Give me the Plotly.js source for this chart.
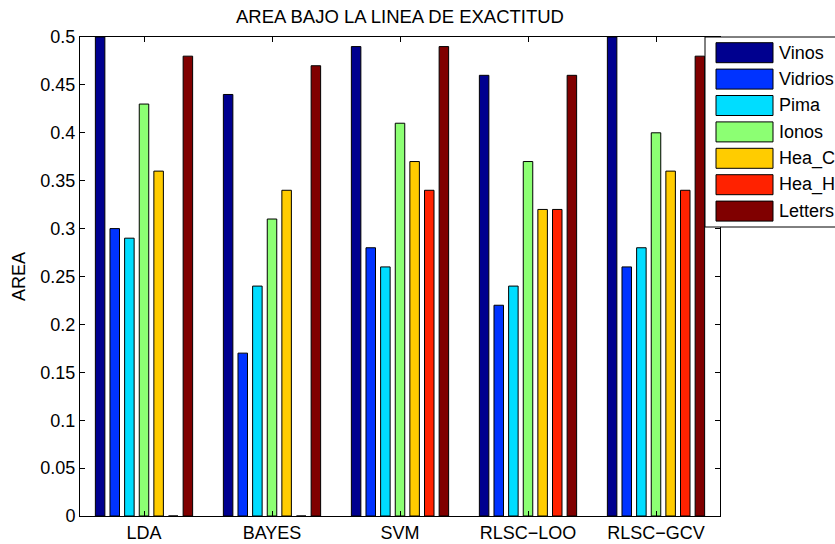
<!DOCTYPE html>
<html>
<head>
<meta charset="utf-8">
<script src="https://cdn.plot.ly/plotly-3.0.1.min.js"></script>
<style>html,body{margin:0;padding:0;background:#fff;}#chart{width:835px;height:544px;}</style>
</head>
<body>
<div id="chart"></div>
<script>
const categories = ["LDA", "BAYES", "SVM", "RLSC\u2212LOO", "RLSC\u2212GCV"];
const seriesNames = ["Vinos", "Vidrios", "Pima", "Ionos", "Hea_C", "Hea_H", "Letters"];
const seriesColors = ["#00008F", "#0033FF", "#00DDFF", "#8CFF73", "#FFCC00", "#FF2200", "#800000"];
const vinos   = [0.50, 0.44, 0.49, 0.46, 0.50];
const vidrios = [0.30, 0.17, 0.28, 0.22, 0.26];
const pima    = [0.29, 0.24, 0.26, 0.24, 0.28];
const ionos   = [0.43, 0.31, 0.41, 0.37, 0.40];
const heaC    = [0.36, 0.34, 0.37, 0.32, 0.36];
const heaH    = [0.00, 0.00, 0.34, 0.32, 0.34];
const letters = [0.48, 0.47, 0.49, 0.46, 0.48];
const yTicks = [0, 0.05, 0.1, 0.15, 0.2, 0.25, 0.3, 0.35, 0.4, 0.45, 0.5];
const yTickLabels = ["0", "0.05", "0.1", "0.15", "0.2", "0.25", "0.3", "0.35", "0.4", "0.45", "0.5"];

const seriesValues = [vinos, vidrios, pima, ionos, heaC, heaH, letters];
const FONT = "Liberation Sans, Arial, Helvetica, sans-serif";
const FS = 18;

const traces = seriesValues.map((vals, i) => ({
  type: "bar",
  name: seriesNames[i],
  x: categories,
  y: vals,
  marker: {color: seriesColors[i], line: {color: "#000", width: 1}},
  hoverinfo: "name+y"
}));

// custom MATLAB-style legend (box, swatches, labels) in paper coords
const plotL = 80, plotR = 720, plotT = 37, plotB = 516;
const px = v => (v - plotL) / (plotR - plotL);
const py = v => (plotB - v) / (plotB - plotT);
const shapes = [{
  type: "rect", xref: "paper", yref: "paper",
  x0: px(705), x1: px(900), y0: py(227), y1: py(37),
  fillcolor: "#fff", line: {color: "#000", width: 1}, layer: "above"
}];
const annotations = [];
seriesNames.forEach((n, i) => {
  const cy = 52.7 + i * 26.4;
  shapes.push({
    type: "rect", xref: "paper", yref: "paper",
    x0: px(716), x1: px(773), y0: py(cy + 10), y1: py(cy - 10),
    fillcolor: seriesColors[i], line: {color: "#000", width: 1}, layer: "above"
  });
  annotations.push({
    xref: "paper", yref: "paper", x: px(777), y: py(cy),
    xanchor: "left", yanchor: "middle", showarrow: false,
    text: n, font: {family: FONT, size: FS, color: "#000"}
  });
});

const layout = {
  width: 835, height: 544,
  margin: {l: plotL, r: 835 - plotR, t: plotT, b: 544 - plotB},
  paper_bgcolor: "#fff", plot_bgcolor: "#fff",
  font: {family: FONT, size: FS, color: "#000"},
  title: {text: "AREA BAJO LA LINEA DE EXACTITUD", font: {family: FONT, size: 18.5, color: "#000"},
          x: 0.5, xref: "paper", xanchor: "center", y: 1 - 17/544, yref: "container", yanchor: "middle"},
  showlegend: false,
  barmode: "group",
  bargap: 0.2,
  bargroupgap: 0.35,
  xaxis: {
    type: "category", range: [-0.5, 4.5],
    showline: true, linecolor: "#000", linewidth: 1, mirror: "allticks",
    ticks: "inside", ticklen: 5, tickcolor: "#000",
    showgrid: false, zeroline: false,
    tickfont: {family: FONT, size: FS, color: "#000"}
  },
  yaxis: {
    range: [0, 0.5],
    tickvals: yTicks, ticktext: yTickLabels,
    showline: true, linecolor: "#000", linewidth: 1, mirror: "allticks",
    ticks: "inside", ticklen: 5, tickcolor: "#000",
    showgrid: false, zeroline: false,
    tickfont: {family: FONT, size: FS, color: "#000"},
    title: {text: "AREA", font: {family: FONT, size: FS, color: "#000"}, standoff: 10}
  },
  shapes: shapes,
  annotations: annotations
};

Plotly.newPlot("chart", traces, layout, {displayModeBar: false, staticPlot: true});
</script>
</body>
</html>
